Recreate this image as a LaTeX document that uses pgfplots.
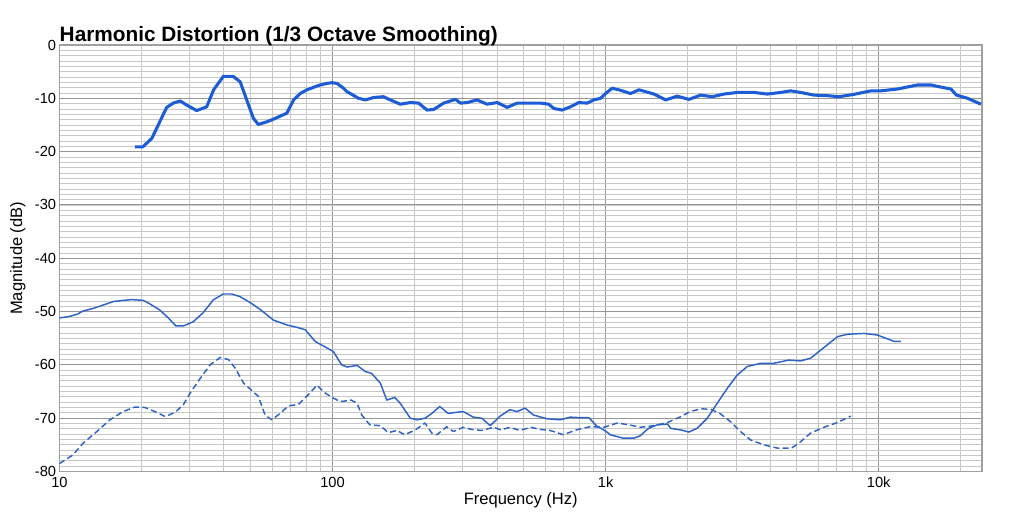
\documentclass[border=0pt]{standalone}
\usepackage{pgfplots}
\pgfplotsset{compat=1.18}
\usepackage{fontspec}
\setmainfont{Liberation Sans}
\definecolor{topblue}{RGB}{28,92,214}
\definecolor{thinblue}{RGB}{45,98,200}
\definecolor{majgrid}{RGB}{150,150,150}
\definecolor{mingrid}{RGB}{200,200,200}
\definecolor{framec}{RGB}{160,160,160}
\begin{document}
\begin{tikzpicture}
\path[use as bounding box] (0,0) rectangle (768pt,390.75pt);
\begin{axis}[
  at={(44.6pt,37.1pt)}, anchor=south west,
  scale only axis, width=691.9pt, height=319.9pt,
  xmode=log, xmin=10, xmax=23900, ymin=-80, ymax=0,
  log basis x=10,
  xtick={10,100,1000,10000}, xticklabels={10,100,1k,10k},
  minor xtick={20,30,40,50,60,70,80,90,200,300,400,500,600,700,800,900,2000,3000,4000,5000,6000,7000,8000,9000,20000},
  ytick={-80,-70,...,0},
  minor ytick={-79,-78,...,-1},
  grid=both,
  major grid style={draw=majgrid, line width=0.7pt},
  minor grid style={draw=mingrid, line width=0.6pt},
  axis line style={draw=framec, line width=0.8pt},
  tick style={draw=none},
  /pgf/number format/assume math mode=true,
  ticklabel style={font=\fontsize{11pt}{13pt}\selectfont},
  xticklabel style={yshift=-0.5pt},
  yticklabel style={xshift=1pt},
  title={Harmonic Distortion (1/3 Octave Smoothing)},
  title style={at={(axis description cs:0,1)}, anchor=base west, yshift=-3.5pt, inner sep=0pt, font=\bfseries\fontsize{15.6pt}{18pt}\selectfont},
  xlabel={Frequency (Hz)},
  xlabel style={at={(axis description cs:0.5,0)}, anchor=base, yshift=-25pt, font=\fontsize{12.4pt}{14pt}\selectfont},
  ylabel={Magnitude (dB)},
  ylabel style={at={(axis description cs:-0.045,0.5)}, anchor=center, font=\fontsize{12.4pt}{14pt}\selectfont},
]
\addplot[topblue, line width=2.3pt, line join=round] coordinates {
(18.9,-19.1) (20.2,-19.1) (21.8,-17.5) (23.3,-14.4) (24.7,-11.7) (26.1,-10.9) (27.7,-10.5) (29.2,-11.25) (31.8,-12.3) (34.6,-11.6) (36.7,-8.4) (39.8,-5.9) (43.3,-5.9) (45.9,-6.9) (48.5,-10.3) (51.3,-13.75) (53.5,-14.9) (57.5,-14.4) (60.8,-13.9) (68.0,-12.8) (72.0,-10.3) (76.2,-9.1) (80.6,-8.4) (87.7,-7.7) (90.2,-7.5) (95.4,-7.2) (99.5,-7.07) (103.8,-7.2) (109.7,-8.1) (112.9,-8.75) (116.1,-9.1) (124.5,-10.0) (131.9,-10.3) (141.4,-9.85) (153.8,-9.7) (162.7,-10.3) (177.1,-11.1) (192.7,-10.8) (206.7,-10.9) (221.8,-12.2) (234.5,-12.1) (255.1,-10.9) (282,-10.2) (294,-10.9) (311,-10.8) (338,-10.3) (368,-11.1) (401,-10.8) (436,-11.7) (474,-10.9) (531,-10.9) (577,-10.9) (619,-11.1) (646,-11.9) (693,-12.2) (743,-11.6) (797,-10.8) (856,-10.9) (905,-10.3) (958,-10.0) (1000,-9.1) (1057,-8.1) (1135,-8.5) (1234,-9.1) (1325,-8.4) (1503,-9.2) (1660,-10.3) (1830,-9.6) (2018,-10.2) (2228,-9.4) (2459,-9.7) (2712,-9.2) (3035,-8.9) (3493,-8.9) (3910,-9.2) (4375,-8.9) (4760,-8.6) (5180,-8.9) (5800,-9.4) (6490,-9.5) (7160,-9.7) (8130,-9.25) (9360,-8.6) (10180,-8.6) (11720,-8.25) (13880,-7.5) (15530,-7.5) (16900,-7.9) (18380,-8.25) (19280,-9.4) (21170,-10.0) (23680,-11.1)
};
\addplot[thinblue, line width=1.1pt, line join=round] coordinates {
(10,-51.2) (10.9,-50.9) (11.6,-50.5) (12.2,-49.9) (13.3,-49.4) (14.5,-48.75) (15.8,-48.1) (17.1,-47.9) (18.4,-47.75) (20.3,-47.9) (21.5,-48.6) (23.3,-49.7) (25.1,-51.25) (26.7,-52.7) (28.4,-52.7) (30.9,-51.9) (33.6,-50.2) (36.6,-47.8) (39.8,-46.7) (42.7,-46.7) (45.9,-47.2) (49.9,-48.3) (54.3,-49.6) (60.8,-51.6) (68,-52.5) (74,-52.95) (79.4,-53.4) (86.4,-55.6) (93,-56.5) (100.7,-57.5) (108,-60) (113,-60.4) (123,-60.1) (131.9,-61.25) (139,-61.6) (149.6,-63.4) (158,-66.6) (169,-66.1) (177,-67.2) (192.7,-70.0) (204,-70.3) (218,-70.0) (231,-69.1) (247,-67.8) (265,-69.1) (284,-68.9) (301,-68.75) (328,-69.8) (352,-70) (378,-71.4) (411,-69.6) (446,-68.4) (474,-68.75) (507,-68.1) (544,-69.4) (609,-70.1) (682,-70.3) (743,-69.8) (807,-69.9) (868,-69.9) (925,-71.4) (1005,-72.5) (1040,-73.1) (1160,-73.75) (1270,-73.75) (1338,-73.3) (1436,-71.9) (1545,-71.25) (1685,-71.1) (1733,-71.9) (1886,-72.2) (2018,-72.6) (2163,-71.9) (2357,-70) (2563,-67.2) (2789,-64.4) (3035,-61.9) (3302,-60.3) (3693,-59.7) (4130,-59.7) (4680,-59.1) (5180,-59.25) (5630,-58.75) (6140,-57.2) (7070,-54.7) (7690,-54.25) (8850,-54.1) (9900,-54.4) (11400,-55.6) (12070,-55.6)
};
\addplot[thinblue, line width=1.1pt, line join=round, dash pattern=on 4.5pt off 2.5pt] coordinates {
(10,-78.5) (11.2,-76.9) (12.2,-74.7) (13.7,-72.5) (15.3,-70.3) (17.1,-68.75) (18.9,-67.9) (20.6,-68) (22.7,-68.9) (24.4,-69.7) (26.5,-68.9) (28.4,-67.5) (30.1,-65.3) (32.8,-62.5) (35.6,-60) (38.8,-58.6) (41.6,-59) (44,-60.6) (47.2,-63.4) (53.5,-65.9) (56.6,-69.4) (59.9,-70.3) (64.3,-69.1) (68.9,-67.7) (75,-67.4) (81.5,-65.6) (87.7,-63.8) (93,-65.1) (98.1,-65.9) (106.7,-66.9) (117,-66.6) (123,-67.2) (128,-69.4) (137,-71.25) (149.6,-71.4) (160,-72.7) (172,-72.3) (184,-73.1) (201,-72.2) (218,-70.9) (231,-72.8) (241,-73.1) (262,-71.6) (277,-72.5) (301,-71.7) (323,-72.1) (352,-72.3) (389,-71.7) (414,-72.2) (446,-71.7) (485,-72.3) (531,-71.7) (577,-72.1) (627,-72.3) (700,-73.1) (780,-72.2) (876,-71.6) (985,-71.7) (1105,-70.9) (1234,-71.3) (1338,-71.7) (1503,-71.4) (1685,-70.8) (1886,-69.7) (2040,-68.75) (2228,-68.25) (2420,-68.3) (2620,-69.1) (2860,-70.6) (3120,-72.5) (3400,-74.1) (3800,-75) (4250,-75.6) (4800,-75.6) (5180,-74.4) (5630,-72.8) (6300,-71.7) (7070,-70.8) (7900,-69.6)
};
\end{axis}
\end{tikzpicture}
\end{document}
